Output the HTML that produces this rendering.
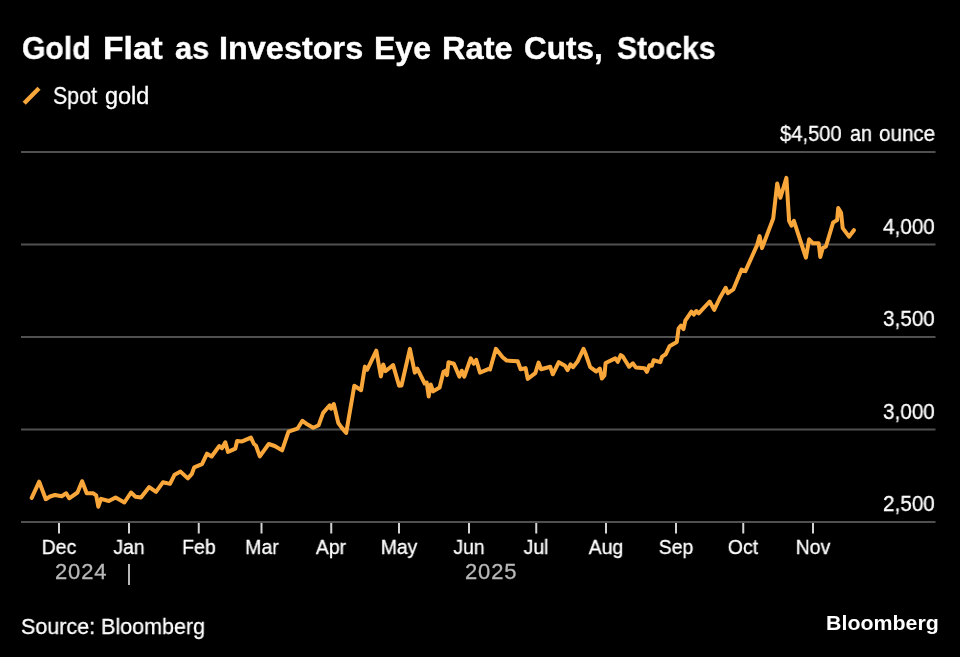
<!DOCTYPE html>
<html><head><meta charset="utf-8">
<style>
html,body{margin:0;padding:0;background:#000;}
body{width:960px;height:657px;position:relative;overflow:hidden;font-family:"Liberation Sans",sans-serif;color:#fff;}
.t{position:absolute;white-space:nowrap;line-height:1;will-change:transform;-webkit-text-stroke:0.3px currentColor;}
.tw{-webkit-text-stroke:0.4px #fff;}
.tw{top:33.2px;font-size:31px;font-weight:bold;transform-origin:0 0;}
.lg{top:85.1px;font-size:23px;transform-origin:0 0;}
.yl{right:25.3px;font-size:21.5px;text-align:right;transform:scaleX(0.963);transform-origin:100% 0;}
.un{top:123.8px;font-size:21.5px;transform-origin:0 0;}
.ml{top:536.5px;width:100px;text-align:center;font-size:20.5px;transform:scaleX(0.95);}
.yr{font-size:22px;letter-spacing:0.87px;color:#b8b8b8;top:561.4px;}
#src{left:21px;top:616.4px;font-size:22.5px;transform:scaleX(0.956);transform-origin:0 0;}
#bb{left:825.5px;top:612.4px;font-size:21px;font-weight:bold;transform:scaleX(1.018);transform-origin:0 0;-webkit-text-stroke:0;}
</style></head><body>
<div class="t tw" style="left:22.23px;transform:scaleX(0.9706)">Gold</div>
<div class="t tw" style="left:103.13px;transform:scaleX(1.0849)">Flat</div>
<div class="t tw" style="left:174.81px;transform:scaleX(0.9906)">as</div>
<div class="t tw" style="left:219.16px;transform:scaleX(1.0463)">Investors</div>
<div class="t tw" style="left:374.18px;transform:scaleX(1.0337)">Eye</div>
<div class="t tw" style="left:441.80px;transform:scaleX(1.0516)">Rate</div>
<div class="t tw" style="left:523.98px;transform:scaleX(1.0160)">Cuts,</div>
<div class="t tw" style="left:616.83px;transform:scaleX(0.9680)">Stocks</div>

<svg width="960" height="657" style="position:absolute;left:0;top:0">
<line x1="24.2" y1="103.3" x2="39" y2="88.3" stroke="#F9A73A" stroke-width="4.4"/>
<g stroke="#505050" stroke-width="2">
<line x1="21" y1="152" x2="935.5" y2="152"/>
<line x1="21" y1="244.5" x2="935.5" y2="244.5"/>
<line x1="21" y1="337" x2="935.5" y2="337"/>
<line x1="21" y1="429.5" x2="935.5" y2="429.5"/>
<line x1="21" y1="522" x2="935.5" y2="522"/>
</g>
<g stroke="#d4d4d4" stroke-width="2">
<line x1="59" y1="523" x2="59" y2="533.5"/>
<line x1="129" y1="523" x2="129" y2="533.5"/>
<line x1="198.75" y1="523" x2="198.75" y2="533.5"/>
<line x1="261.5" y1="523" x2="261.5" y2="533.5"/>
<line x1="331.25" y1="523" x2="331.25" y2="533.5"/>
<line x1="399" y1="523" x2="399" y2="533.5"/>
<line x1="469" y1="523" x2="469" y2="533.5"/>
<line x1="536.25" y1="523" x2="536.25" y2="533.5"/>
<line x1="606" y1="523" x2="606" y2="533.5"/>
<line x1="676" y1="523" x2="676" y2="533.5"/>
<line x1="743.25" y1="523" x2="743.25" y2="533.5"/>
<line x1="813" y1="523" x2="813" y2="533.5"/>
</g>
<line x1="129" y1="564" x2="129" y2="585" stroke="#b8b8b8" stroke-width="2"/>
<path d="M31.7,497.9 L39.2,481.7 L45.8,499.2 L50.0,496.5 L55.0,495.0 L61.7,496.2 L66.2,493.3 L69.2,498.3 L77.5,492.5 L82.1,481.2 L86.7,493.3 L93.3,493.3 L96.2,495.4 L98.3,506.7 L101.0,498.8 L108.8,501.0 L115.6,497.5 L124.4,502.5 L131.0,492.5 L135.5,496.7 L141.0,497.4 L149.2,487.1 L156.0,491.9 L162.9,482.3 L170.0,483.9 L174.6,474.7 L180.5,471.6 L187.8,478.4 L191.9,473.8 L194.2,467.4 L202.0,464.2 L207.0,453.7 L211.6,456.5 L219.3,446.0 L222.0,448.3 L225.3,442.3 L228.0,451.9 L235.3,448.7 L237.1,441.0 L242.1,441.4 L250.9,437.6 L253.9,444.0 L255.9,445.5 L259.8,456.4 L268.7,444.0 L274.7,446.0 L282.1,450.4 L288.5,431.7 L297.4,428.7 L302.4,420.8 L306.3,423.7 L313.2,427.7 L318.7,425.2 L323.1,412.9 L329.7,405.3 L331.1,408.8 L333.8,404.0 L338.3,423.0 L341.5,427.4 L346.2,432.9 L354.3,385.8 L361.1,390.2 L364.9,366.6 L367.2,369.7 L376.3,350.7 L380.9,376.5 L383.2,364.4 L385.4,371.2 L393.1,365.1 L399.1,385.7 L401.5,385.5 L409.9,348.9 L414.8,372.6 L417.3,368.7 L424.7,383.5 L426.7,382.5 L428.7,396.4 L430.7,384.5 L433.1,391.4 L439.6,387.5 L443.5,371.7 L445.5,370.7 L447.0,375.1 L448.5,362.3 L453.9,363.7 L459.3,376.6 L461.8,370.7 L464.3,376.6 L470.7,358.3 L473.7,363.7 L476.2,359.8 L480.0,372.7 L488.8,368.9 L490.0,369.5 L495.9,348.8 L502.6,357.2 L506.8,360.6 L517.7,361.3 L520.6,369.3 L525.6,368.1 L527.7,378.9 L535.3,373.1 L538.6,362.6 L541.1,369.3 L550.3,366.8 L552.8,374.3 L558.8,362.2 L565.0,365.8 L567.6,370.1 L570.5,364.3 L573.0,367.2 L577.5,361.6 L583.5,348.8 L585.5,353.5 L590.2,367.2 L596.2,371.5 L599.8,368.5 L601.9,378.5 L604.4,375.5 L605.6,363.0 L615.3,358.4 L617.8,361.8 L620.7,355.1 L622.8,356.5 L629.1,366.8 L632.9,363.3 L636.0,367.6 L644.5,368.2 L646.9,371.9 L649.4,365.2 L651.8,365.8 L653.6,360.3 L660.3,362.1 L662.1,356.6 L665.8,354.2 L669.5,346.3 L676.8,342.0 L678.6,328.6 L681.0,325.6 L683.5,329.2 L685.3,320.7 L691.4,311.6 L693.8,314.6 L696.3,311.0 L698.7,313.4 L709.7,301.5 L714.2,309.9 L719.6,298.5 L725.7,287.8 L727.9,293.2 L733.3,289.4 L741.6,269.6 L745.4,271.1 L757.2,244.9 L759.6,236.1 L762.0,248.1 L773.2,218.5 L777.2,183.4 L780.4,197.8 L786.4,177.8 L789.1,220.9 L791.5,225.7 L793.9,220.9 L805.9,257.7 L809.1,239.3 L813.1,243.3 L818.7,243.3 L820.3,256.9 L822.7,248.1 L825.9,246.5 L833.1,222.5 L837.1,220.1 L838.2,208.1 L841.1,212.9 L842.7,228.1 L849.1,236.6 L853.9,230.2" fill="none" stroke="#F9A73A" stroke-width="4" stroke-linejoin="round" stroke-linecap="round"/>
</svg>
<div class="t lg" style="left:52.57px;transform:scaleX(0.929)">Spot</div>
<div class="t lg" style="left:105.23px;transform:scaleX(1.02)">gold</div>
<div class="t un" style="left:779.8px;transform:scaleX(0.938)">$4,500</div>
<div class="t un" style="left:849.98px;transform:scaleX(0.918)">an</div>
<div class="t un" style="left:879.44px;transform:scaleX(0.96)">ounce</div>
<div class="t yl" style="top:216.5px">4,000</div>
<div class="t yl" style="top:308.9px">3,500</div>
<div class="t yl" style="top:402.2px">3,000</div>
<div class="t yl" style="top:494.3px">2,500</div>
<div class="t ml" style="left:9px">Dec</div>
<div class="t ml" style="left:79px">Jan</div>
<div class="t ml" style="left:148.75px">Feb</div>
<div class="t ml" style="left:211.5px">Mar</div>
<div class="t ml" style="left:281.25px">Apr</div>
<div class="t ml" style="left:349px">May</div>
<div class="t ml" style="left:419px">Jun</div>
<div class="t ml" style="left:486.25px">Jul</div>
<div class="t ml" style="left:556px">Aug</div>
<div class="t ml" style="left:626px">Sep</div>
<div class="t ml" style="left:693.25px">Oct</div>
<div class="t ml" style="left:763px">Nov</div>
<div class="t yr" style="left:54.6px">2024</div>
<div class="t yr" style="left:465px">2025</div>
<div class="t" id="src">Source: Bloomberg</div>
<div class="t" id="bb">Bloomberg</div>
</body></html>
